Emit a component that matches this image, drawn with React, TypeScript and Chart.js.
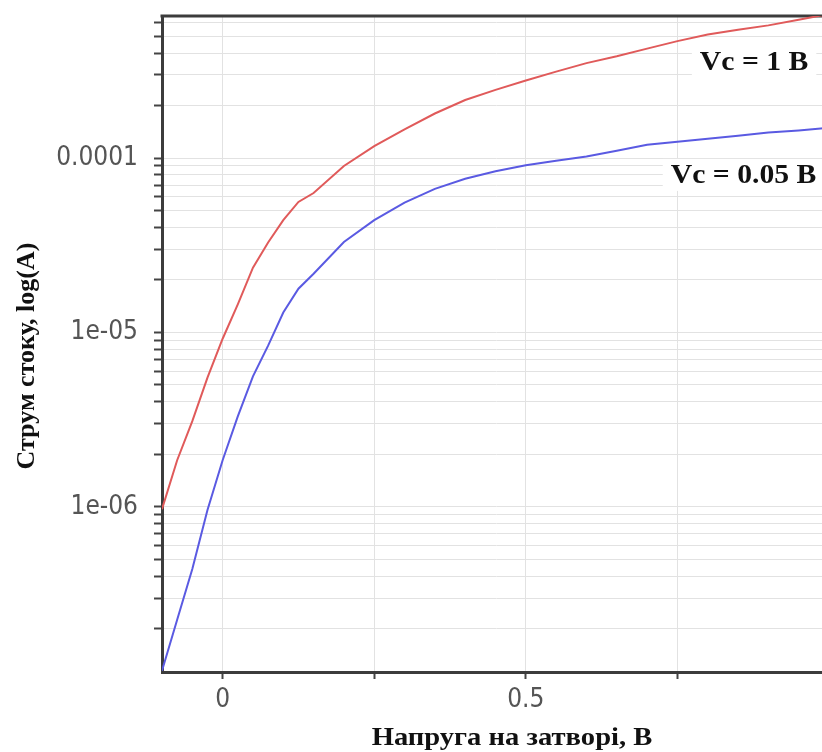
import React, { useEffect, useRef } from "react";
import { Chart, registerables } from "chart.js";

Chart.register(...registerables);

// Gate voltage, V
const gateVoltage = [
  -0.1, -0.075, -0.05, -0.025, 0, 0.025, 0.05, 0.075, 0.1, 0.125, 0.15, 0.2, 0.25, 0.3,
  0.35, 0.4, 0.45, 0.5, 0.55, 0.6, 0.65, 0.7, 0.75, 0.8, 0.85, 0.9, 0.95, 1.0,
];
// Drain current, A  (Vc = 1 B)
const currentVc1 = [
  0.97e-6, 1.85e-6, 3.1e-6, 5.5e-6, 9.2e-6, 1.45e-5, 2.35e-5, 3.28e-5, 4.4e-5, 5.6e-5,
  6.3e-5, 9.0e-5, 1.17e-4, 1.46e-4, 1.8e-4, 2.15e-4, 2.46e-4, 2.78e-4, 3.13e-4, 3.5e-4,
  3.83e-4, 4.24e-4, 4.68e-4, 5.1e-4, 5.43e-4, 5.76e-4, 6.2e-4, 6.7e-4,
];
// Drain current, A  (Vc = 0.05 B)
const currentVc005 = [
  1.15e-7, 2.25e-7, 4.4e-7, 9.6e-7, 1.85e-6, 3.3e-6, 5.6e-6, 8.4e-6, 1.3e-5, 1.78e-5,
  2.17e-5, 3.3e-5, 4.4e-5, 5.55e-5, 6.65e-5, 7.6e-5, 8.4e-5, 9.1e-5, 9.65e-5, 1.02e-4,
  1.1e-4, 1.19e-4, 1.24e-4, 1.29e-4, 1.34e-4, 1.4e-4, 1.44e-4, 1.49e-4,
];

const seriesLabels = ["Vc = 1 B", "Vc = 0.05 B"];
const xTickValues = [0, 0.25, 0.5, 0.75, 1.0];
const xTickLabels = ["0", "", "0.5", "", "1"];
const yDecades = [1e-7, 1e-6, 1e-5, 1e-4];
const yMajorLabels: Record<string, string> = { "1e-6": "1e-06", "1e-5": "1e-05", "1e-4": "0.0001" };
const yMinorMultipliers = [1, 2, 3, 4, 5, 6, 7, 8, 9];
const xTitle = "Напруга на затворі, В";
const yTitle = "Струм стоку, log(A)";

const X_MIN = -0.1;
const X_MAX = 1.0;
const Y_MIN = 1.13e-7;
const Y_MAX = 6.52e-4;

const tickFont = { family: "'DejaVu Sans Condensed', 'DejaVu Sans', sans-serif", size: 26 };

export default function App() {
  const ref = useRef<HTMLCanvasElement>(null);

  useEffect(() => {
    if (!ref.current) return;

    const yTicks: number[] = [];
    yDecades.forEach((d) =>
      yMinorMultipliers.forEach((m) => {
        const v = parseFloat((d * m).toPrecision(3));
        if (v >= Y_MIN && v <= Y_MAX) yTicks.push(v);
      })
    );

    const decor = {
      id: "decor",
      beforeDatasetsDraw(chart: any) {
        const { ctx, chartArea } = chart;
        ctx.save();
        ctx.strokeStyle = "#3c3c3c";
        ctx.lineWidth = 3;
        ctx.beginPath();
        ctx.moveTo(chartArea.left - 1.5, chartArea.top);
        ctx.lineTo(chartArea.right, chartArea.top);
        ctx.stroke();
        ctx.restore();
      },
      afterDraw(chart: any) {
        const { ctx } = chart;
        const xs = chart.scales.x;
        const ys = chart.scales.y;
        ctx.save();
        ctx.font = "bold 27px 'Liberation Serif', serif";
        ctx.textBaseline = "middle";
        ctx.textAlign = "left";
        const labels = [
          { text: seriesLabels[0], x: 0.787, y: 3.55e-4 },
          { text: seriesLabels[1], x: 0.739, y: 0.8e-4 },
        ];
        const sx = 1.1;
        labels.forEach((l) => {
          const px = xs.getPixelForValue(l.x);
          const py = ys.getPixelForValue(l.y);
          const w = ctx.measureText(l.text).width * sx;
          ctx.fillStyle = "#ffffff";
          ctx.fillRect(px - 8, py - 16, w + 16, 32);
          ctx.save();
          ctx.translate(px, py + 1);
          ctx.scale(sx, 1);
          ctx.fillStyle = "#111111";
          ctx.fillText(l.text, 0, 0);
          ctx.restore();
        });

        // axis titles
        ctx.fillStyle = "#111111";
        ctx.textAlign = "center";
        ctx.textBaseline = "middle";
        ctx.font = "bold 26px 'Liberation Serif', serif";
        ctx.save();
        ctx.translate(512, 738);
        ctx.scale(1.1, 1);
        ctx.fillText(xTitle, 0, 0);
        ctx.restore();
        ctx.save();
        ctx.translate(27, 356);
        ctx.rotate(-Math.PI / 2);
        ctx.fillText(yTitle, 0, 0);
        ctx.restore();
        ctx.restore();
      },
    };

    const chart = new Chart(ref.current, {
      type: "line",
      data: {
        datasets: [
          {
            label: seriesLabels[0],
            data: gateVoltage.map((x, i) => ({ x, y: currentVc1[i] })),
            borderColor: "#e05a5a",
            borderWidth: 2,
            pointRadius: 0,
            tension: 0,
          },
          {
            label: seriesLabels[1],
            data: gateVoltage.map((x, i) => ({ x, y: currentVc005[i] })),
            borderColor: "#5a5ae2",
            borderWidth: 2,
            pointRadius: 0,
            tension: 0,
          },
        ],
      },
      options: {
        animation: false,
        responsive: false,
        devicePixelRatio: 1,
        layout: { padding: { left: 0, top: 16, right: 11, bottom: 0 } },
        plugins: {
          legend: { display: false },
          tooltip: { enabled: false },
        },
        scales: {
          x: {
            type: "linear",
            min: X_MIN,
            max: X_MAX,
            afterFit: (s: any) => {
              s.height = 80;
              s.paddingLeft = 0;
              s.paddingRight = 0;
            },
            afterBuildTicks: (s: any) => {
              s.ticks = xTickValues.map((v) => ({ value: v }));
            },
            grid: {
              color: "#e2e2e2",
              lineWidth: 1,
              tickColor: "#444444",
              tickLength: 7,
              tickWidth: 2,
            },
            border: { color: "#3c3c3c", width: 3 },
            ticks: {
              padding: 6,
              color: "#555555",
              font: tickFont,
              maxRotation: 0,
              autoSkip: false,
              callback: (v: any) => {
                const i = xTickValues.indexOf(Number(v));
                return i >= 0 ? xTickLabels[i] : "";
              },
            },
          },
          y: {
            type: "logarithmic",
            min: Y_MIN,
            max: Y_MAX,
            afterFit: (s: any) => {
              s.width = 162;
              s.paddingTop = 0;
              s.paddingBottom = 0;
            },
            afterBuildTicks: (s: any) => {
              s.ticks = yTicks.map((v) => ({ value: v }));
            },
            grid: {
              color: "#e2e2e2",
              lineWidth: 1,
              tickColor: "#444444",
              tickLength: 8,
              tickWidth: 2,
            },
            border: { color: "#3c3c3c", width: 3 },
            ticks: {
              padding: 16,
              color: "#555555",
              font: tickFont,
              autoSkip: false,
              callback: (v: any) => {
                const n = Number(v);
                const e = Math.round(Math.log10(n));
                if (Math.abs(n - Math.pow(10, e)) / n < 1e-6) {
                  return yMajorLabels["1e" + e] ?? "";
                }
                return "";
              },
            },
          },
        },
      },
      plugins: [decor],
    });

    return () => chart.destroy();
  }, []);

  return (
    <div
      style={{
        position: "absolute",
        left: 0,
        top: 0,
        width: 822,
        height: 752,
        overflow: "hidden",
        background: "#ffffff",
      }}
    >
      <canvas ref={ref} width={840} height={752} style={{ display: "block" }} />
    </div>
  );
}
